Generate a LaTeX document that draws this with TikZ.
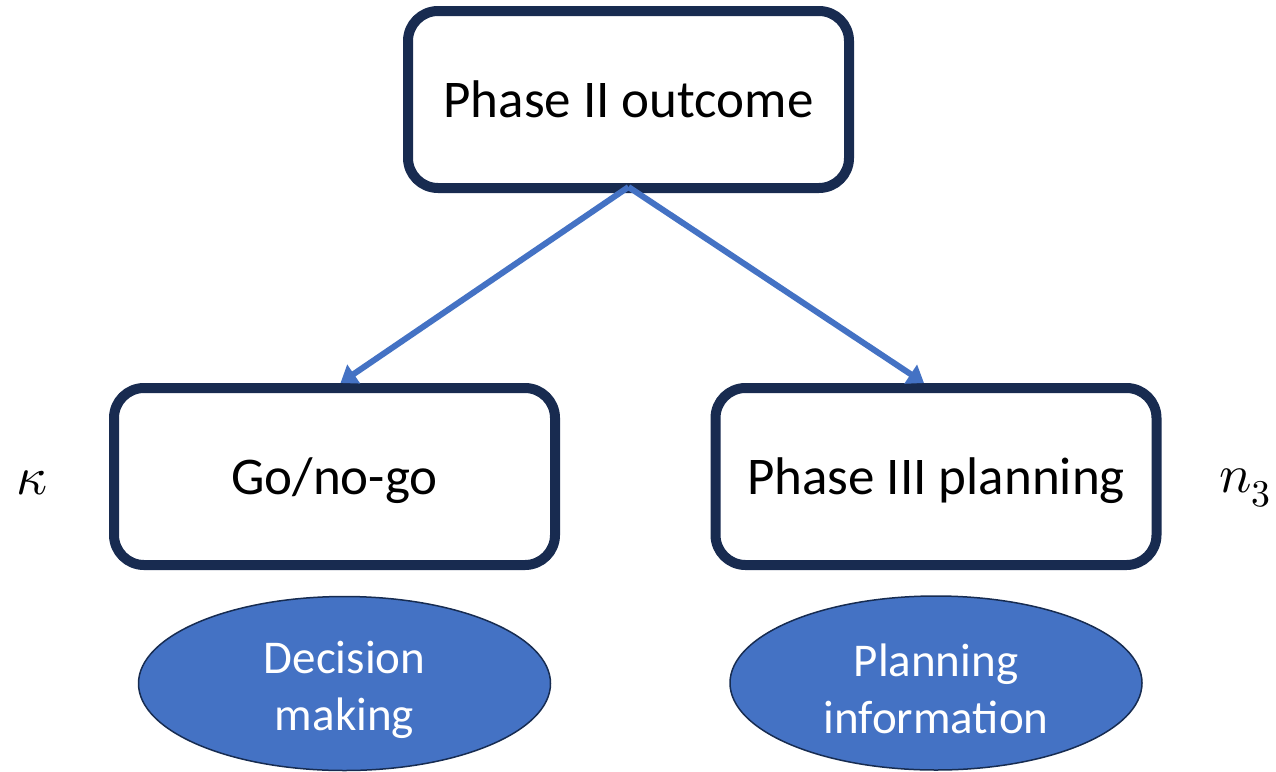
\documentclass[tikz,border=0pt]{standalone}
\usepackage{fontspec}
\usepackage{unicode-math}
\setmainfont{Carlito}
\setmathfont{Latin Modern Math}
\usetikzlibrary{arrows.meta,shapes.geometric}
\definecolor{boxborder}{RGB}{24,43,80}
\definecolor{accent}{RGB}{68,114,196}
\definecolor{ellborder}{RGB}{23,44,81}
\begin{document}
\begin{tikzpicture}[x=1pt,y=-1pt,
  phasebox/.style={draw=boxborder,line width=10pt,rounded corners=30pt,fill=white,
    minimum width=441pt,minimum height=177pt,inner sep=0pt,
    font=\fontsize{53}{60}\selectfont},
  infoell/.style={ellipse,draw=ellborder,line width=1.5pt,fill=accent,
    minimum width=412pt,minimum height=174pt,inner sep=0pt},
  elltext/.style={inner sep=0pt,text=white,align=center,
    font=\fontsize{47}{57}\selectfont},
  flow/.style={draw=accent,line width=6pt,-{Triangle[width=22pt,length=16pt]}},
  varlabel/.style={inner sep=0pt,font=\fontsize{54}{60}\selectfont}]
\useasboundingbox (0,0) rectangle (1276,771);
\fill[white] (0,0) rectangle (1276,771);
\node[phasebox] (top) at (628.5,99.5) {Phase II outcome};
\node[phasebox] (gng) at (334.5,476.5) {\raisebox{-4pt}[\height][\depth]{Go/no-go}};
\node[phasebox] (plan) at (936,476.5) {\raisebox{-4pt}[\height][\depth]{Phase III planning}};
\node[infoell] (dec) at (344.5,683.5) {};
\node[elltext] (dectext) at ([yshift=-6pt]dec.center) {Decision\\making};
\node[infoell] (info) at (936,683) {};
\node[elltext] (infotext) at ([yshift=-6pt]info.center) {Planning\\information};
\node[varlabel] (kappa) at (32,483) {$\kappa$};
\node[varlabel] (nthree) at (1245,488) {$n_3$};
\coordinate (apex) at ([yshift=6pt]top.south);
\draw[flow] (apex) -- ([xshift=6pt]gng.north);
\draw[flow] (apex) -- ([xshift=-12pt]plan.north);
\end{tikzpicture}
\end{document}
